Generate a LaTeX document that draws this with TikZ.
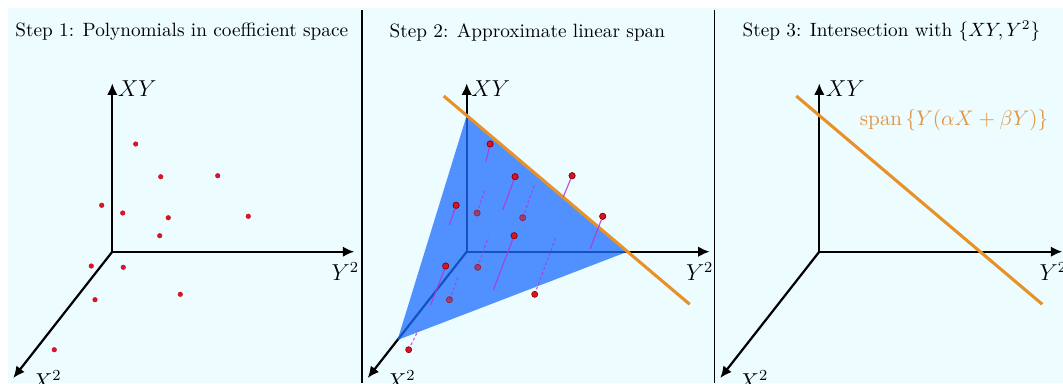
\documentclass[tikz,border=0pt]{standalone}
\usetikzlibrary{arrows.meta}
\definecolor{bgc}{RGB}{236,252,255}
\definecolor{dotred}{RGB}{215,20,40}
\definecolor{lineorange}{RGB}{232,145,40}
\definecolor{labelorange}{RGB}{226,150,70}
\definecolor{planeblue}{RGB}{30,110,255}
\definecolor{projviolet}{RGB}{175,55,215}
\begin{document}
\begin{tikzpicture}[x=0.52pt,y=-0.52pt,
  axis/.style={line width=1.15pt,-{Latex[length=6pt,width=5.5pt]}},
  axlabel/.style={font=\large, inner sep=0pt},
  titletext/.style={anchor=west, inner sep=0pt},
  divider/.style={line width=1pt},
  dotA/.style={circle, fill=dotred, inner sep=0pt, minimum size=2.7pt},
  dotB/.style={circle, fill=dotred, draw=red!55!black, line width=0.3pt, inner sep=0pt, minimum size=3.2pt},
  dotF/.style={circle, fill=red!80!black, fill opacity=0.5, draw=red!70!black, draw opacity=0.7, line width=0.4pt, inner sep=0pt, minimum size=3.2pt},
  projsolid/.style={projviolet, line width=0.6pt, opacity=0.85},
  projdash/.style={projviolet, line width=0.6pt, opacity=0.75, dash pattern=on 1.5pt off 1.2pt},
  spanline/.style={lineorange, line width=1.6pt},
  plane/.style={fill=planeblue, fill opacity=0.75}
]
\useasboundingbox (0,0) rectangle (1063,383);
\fill[white] (0,0) rectangle (1063,383);
\fill[bgc] (8,8) rectangle (1063,383);

% dividers
\coordinate (v1t) at (362.3,10); \coordinate (v1b) at (362.3,383);
\coordinate (v2t) at (714.5,10); \coordinate (v2b) at (714.5,383);
\draw[divider] (v1t) -- (v1b);
\draw[divider] (v2t) -- (v2b);

% titles
\node[titletext] (t1) at (15,32) {Step 1: Polynomials in coefficient space};
\node[titletext] (t2) at (389.3,32) {Step 2: Approximate linear span};
\node[titletext] (t3) at (742.3,31) {Step 3: Intersection with $\{XY, Y^2\}$};

% ---------- Panel 1 ----------
\begin{scope}[shift={(112.3,251.7)}]
  \coordinate (o1) at (0,0);
  \coordinate (z1) at (0,-168.4);
  \coordinate (y1) at (242,0);
  \coordinate (x1) at (-99,126.3);
  \draw[axis] (o1) -- (z1);
  \draw[axis] (o1) -- (y1);
  \draw[axis] (o1) -- (x1);
  \node[axlabel] (lz1) at (25,-162.7) {$XY$};
  \node[axlabel] (ly1) at (233,20) {$Y^2$};
  \node[axlabel] (lx1) at (-65.6,128.3) {$X^2$};
  \foreach \px/\py [count=\i] in {23.4/-107.7, 48.4/-75, 105.4/-76, -10.6/-46.4, 10.4/-38.7, 56/-34, 136/-35.4, 47.4/-16, -21/14.3, 11/15.6, -17.3/48, 68/42.6, -58/98}
    \node[dotA] (a\i) at (\px,\py) {};
\end{scope}

% ---------- Panel 2 ----------
\begin{scope}[shift={(466.7,251.7)}]
  \coordinate (o2) at (0,0);
  \coordinate (z2) at (0,-168.4);
  \coordinate (y2) at (243,0);
  \coordinate (x2) at (-99,126.3);
  \draw[axis] (o2) -- (z2);
  \draw[axis] (o2) -- (y2);
  \draw[axis] (o2) -- (x2);
  \node[axlabel] (lz2) at (24,-162.7) {$XY$};
  \node[axlabel] (ly2) at (233,20) {$Y^2$};
  \node[axlabel] (lx2) at (-66,128.3) {$X^2$};
  % plane
  \coordinate (pa) at (0,-136.2);
  \coordinate (pb) at (160.8,0);
  \coordinate (pc) at (-69.2,88.3);
  \fill[plane] (pa) -- (pb) -- (pc) -- cycle;
  % dashed projections (points behind the plane)
  \foreach \px/\py/\ex/\ey/\n in {10.4/-38.7/7.9/-23.7/5, 56/-34/12.3/-34.4/6, 11/15.6/10.6/-30.6/10, -17.3/48/8.9/-23/11, 68/42.6/21.3/-57.6/12, -58/98/9.6/-19.7/13}{
    \coordinate (b\n) at (\px,\py);
    \coordinate (e\n) at (\px+\ex,\py+\ey);
    \draw[projdash] (b\n) -- (e\n);
  }
  % span line
  \coordinate (s2a) at (-23,-155.7);
  \coordinate (s2b) at (223,52.6);
  \draw[spanline] (s2a) -- (s2b);
  % solid projections
  \foreach \px/\py/\ex/\ey/\n in {23.4/-107.7/-4.1/17.7/1, 48.4/-75/-12.4/33.3/2, 105.4/-76/-8.8/21/3, -10.6/-46.4/-6.8/19.7/4, 136/-35.4/-12.7/33/7, 47.4/-16/-20.8/54.3/8, -21/14.3/-15/39/9}{
    \node[dotB] (c\n) at (\px,\py) {};
    \coordinate (f\n) at (\px+\ex,\py+\ey);
    \draw[projsolid] (c\n) -- (f\n);
  }
  \foreach \n in {1,2,3,4,7,8,9} \node[dotB] at (c\n) {};
  % faded dots
  \foreach \n in {5,6,10,11} \node[dotF] (g\n) at (b\n) {};
  \foreach \n in {12,13} \node[dotB] (g\n) at (b\n) {};
\end{scope}

% ---------- Panel 3 ----------
\begin{scope}[shift={(819.3,251.7)}]
  \coordinate (o3) at (0,0);
  \coordinate (z3) at (0,-168.4);
  \coordinate (y3) at (243,0);
  \coordinate (x3) at (-99,126.3);
  \draw[axis] (o3) -- (z3);
  \draw[axis] (o3) -- (y3);
  \draw[axis] (o3) -- (x3);
  \node[axlabel] (lz3) at (26,-162.7) {$XY$};
  \node[axlabel] (ly3) at (234,20) {$Y^2$};
  \node[axlabel] (lx3) at (-66,128.3) {$X^2$};
  \coordinate (s3a) at (-23,-155.7);
  \coordinate (s3b) at (223,52.6);
  \draw[spanline] (s3a) -- (s3b);
  \node[inner sep=0pt, text=labelorange, font=\fontsize{11}{13}\selectfont] (span) at (134.7,-131) {$\mathrm{span}\,\{Y(\alpha X+\beta Y)\}$};
\end{scope}
\end{tikzpicture}
\end{document}
